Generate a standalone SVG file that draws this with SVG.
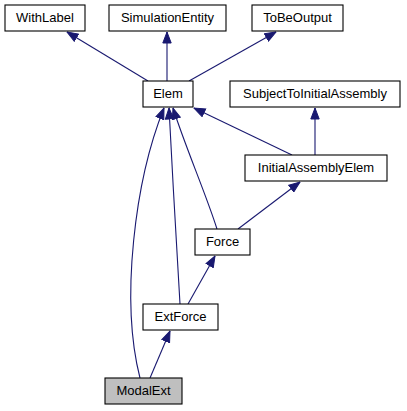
<svg xmlns="http://www.w3.org/2000/svg" width="407" height="411" viewBox="0 0 407 411">
<style>
.node rect{fill:#ffffff;stroke:#000000;stroke-width:1.1}
.node.cur rect{fill:#bfbfbf}
.node text{font-family:"Liberation Sans",Arial,sans-serif;font-size:13px;text-anchor:middle;fill:#000000}
.edges path{fill:none;stroke:#191970;stroke-width:1.1;marker-end:url(#arr)}
</style>
<defs>
<marker id="arr" markerUnits="userSpaceOnUse" markerWidth="12" markerHeight="10" refX="11.5" refY="5" orient="auto">
<path d="M0.5,0.8 L11.5,5 L0.5,9.2 Z" fill="#191970" stroke="#191970" stroke-width="1"/>
</marker>
</defs>
<rect width="407" height="411" fill="#ffffff"/>
<g id="edges" class="edges">
<path d="M148,81 L67,32"/>
<path d="M167,81 L167,32"/>
<path d="M189,81 L276,32"/>
<path d="M315,155 L315,108"/>
<path d="M292,155 L194,108"/>
<path d="M238,229 L300,182"/>
<path d="M217,229 C206,194 185,146 173,108"/>
<path d="M180,304 C177,250 172,170 169,108"/>
<path d="M140,378 C120,300 135,180 164,108"/>
<path d="M188,304 L215,256"/>
<path d="M150,378 L170,331"/>
</g>
<g id="WithLabel" class="node"><rect x="5" y="5" width="80" height="26"/><text x="45" y="22">WithLabel</text></g>
<g id="SimulationEntity" class="node"><rect x="109" y="5" width="117" height="26"/><text x="167.5" y="22">SimulationEntity</text></g>
<g id="ToBeOutput" class="node"><rect x="252" y="5" width="91" height="26"/><text x="297.5" y="22">ToBeOutput</text></g>
<g id="Elem" class="node"><rect x="143" y="81" width="50" height="26"/><text x="168" y="98">Elem</text></g>
<g id="SubjectToInitialAssembly" class="node"><rect x="230" y="81" width="170" height="26"/><text x="315" y="98">SubjectToInitialAssembly</text></g>
<g id="InitialAssemblyElem" class="node"><rect x="245" y="155" width="142" height="26"/><text x="316" y="172">InitialAssemblyElem</text></g>
<g id="Force" class="node"><rect x="195" y="229" width="55" height="26"/><text x="222.5" y="246">Force</text></g>
<g id="ExtForce" class="node"><rect x="143" y="304" width="75" height="26"/><text x="180.5" y="321">ExtForce</text></g>
<g id="ModalExt" class="node cur"><rect x="105" y="378" width="77" height="26"/><text x="143.5" y="395">ModalExt</text></g>
</svg>
